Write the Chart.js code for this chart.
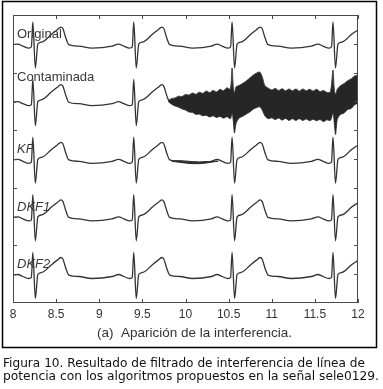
<!DOCTYPE html>
<html>
<head>
<meta charset="utf-8">
<script src="https://cdn.jsdelivr.net/npm/chart.js@4/dist/chart.umd.min.js"></script>
<style>
    html, body { margin: 0; padding: 0; background: #fff; }
    canvas { display: block; }
</style>
</head>
<body>
<canvas id="ecgChart" width="383" height="389"></canvas>
<script>
// ECG traces (time in s, amplitude in plot units around each trace baseline)
const ecgTime = [
    8.00, 8.056, 8.114, 8.184, 8.213, 8.23, 8.259, 8.288, 8.334, 8.45, 8.51, 8.555, 8.578, 8.613, 8.647, 8.763, 8.914, 9.15,
    9.226, 9.284, 9.354, 9.383, 9.40, 9.429, 9.458, 9.504, 9.62, 9.68, 9.725, 9.748, 9.783, 9.817, 9.933, 10.084, 10.30,
    10.366, 10.424, 10.494, 10.523, 10.54, 10.569, 10.598, 10.644, 10.76, 10.82, 10.865, 10.888, 10.923, 10.957, 11.073, 11.224, 11.46,
    11.536, 11.594, 11.664, 11.693, 11.71, 11.739, 11.768, 11.814, 11.93, 12.00
];
const ecgClean = [
    -0.03, -0.01, -0.08, -0.15, -0.11, 0.76, -0.84, -0.01, 0.06, 0.34, 0.48, 0.58, 0.53, 0.20, -0.03, -0.08, -0.15, -0.08,
    -0.01, -0.08, -0.15, -0.11, 0.76, -0.84, -0.01, 0.06, 0.34, 0.48, 0.58, 0.53, 0.20, -0.03, -0.08, -0.15, -0.08,
    -0.01, -0.08, -0.15, -0.11, 0.76, -0.84, -0.01, 0.06, 0.34, 0.48, 0.58, 0.53, 0.20, -0.03, -0.08, -0.15, -0.08,
    -0.01, -0.08, -0.15, -0.11, 0.76, -0.84, -0.01, 0.06, 0.34, 0.48
];

const traceNames = ['Original', 'Contaminada', 'KF', 'DKF1', 'DKF2'];
const traceOffsets = [9, 7, 5, 3, 1];

// Power line interference envelope on the contaminated trace
const noiseTime = [
    9.80, 9.84, 9.88, 9.92, 9.96, 10.00, 10.04, 10.08, 10.12, 10.16, 10.20, 10.24, 10.28, 10.32, 10.36, 10.40, 10.44, 10.48, 10.52,
    10.54, 10.555, 10.568, 10.585, 10.62, 10.66, 10.70, 10.74, 10.78, 10.82, 10.86, 10.89, 10.92, 10.96,
    11.00, 11.04, 11.08, 11.12, 11.16, 11.20, 11.24, 11.28, 11.32, 11.36, 11.40, 11.44, 11.48, 11.52, 11.56, 11.60, 11.64, 11.68,
    11.71, 11.725, 11.74, 11.76, 11.80, 11.84, 11.88, 11.92, 11.96, 12.00
];
const noiseTop = [
    0.03, 0.10, 0.12, 0.18, 0.17, 0.24, 0.22, 0.29, 0.25, 0.32, 0.28, 0.36, 0.31, 0.38, 0.33, 0.42, 0.37, 0.47, 0.43,
    1.16, 0.45, 0.30, 0.50, 0.55, 0.62, 0.70, 0.80, 0.90, 0.98, 1.02, 0.85, 0.55, 0.46,
    0.40, 0.45, 0.38, 0.44, 0.37, 0.43, 0.37, 0.43, 0.36, 0.43, 0.37, 0.42, 0.36, 0.42, 0.34, 0.38, 0.31, 0.33,
    1.09, 0.40, 0.25, 0.42, 0.55, 0.62, 0.72, 0.78, 0.88, 0.92
];
const noiseBottom = [
    0.00, -0.10, -0.16, -0.20, -0.26, -0.30, -0.37, -0.38, -0.45, -0.44, -0.50, -0.48, -0.54, -0.50, -0.56, -0.52, -0.58, -0.53, -0.60,
    -0.40, -0.70, -1.10, -0.78, -0.58, -0.52, -0.45, -0.38, -0.28, -0.22, -0.19, -0.30, -0.50, -0.60,
    -0.57, -0.63, -0.58, -0.65, -0.59, -0.66, -0.60, -0.66, -0.60, -0.66, -0.61, -0.67, -0.62, -0.67, -0.63, -0.70, -0.64, -0.66,
    -0.40, -0.75, -1.15, -0.62, -0.45, -0.40, -0.28, -0.25, -0.12, -0.06
];

// Residual interference left by the KF output
const kfNoiseTime = [9.84, 9.92, 10.00, 10.08, 10.16, 10.24, 10.32, 10.38];
const kfNoiseTop = [-0.07, -0.06, -0.07, -0.09, -0.10, -0.09, -0.08, -0.07];
const kfNoiseBottom = [-0.08, -0.11, -0.14, -0.16, -0.16, -0.14, -0.10, -0.08];

// Axes
const xTicks = [8, 8.5, 9, 9.5, 10, 10.5, 11, 11.5, 12];
const xTickLabels = ['8', '8.5', '9', '9.5', '10', '10.5', '11', '11.5', '12'];
const yTicks = [1, 2, 3, 4, 5, 6, 7, 8, 9];

const subTitle = '(a)  Aparición de la interferencia.';
const captionLines = [
    'Figura 10. Resultado de filtrado de interferencia de línea de',
    'potencia con los algoritmos propuestos en la señal sele0129.'
];

const lineColor = '#333333';

function toPoints(times, values, offset) {
    return times.map((t, i) => ({ x: t, y: values[i] + offset }));
}

// Build datasets (traces first, noise bands drawn on top via lower order)
const datasets = [];
traceNames.forEach((name, i) => {
    datasets.push({
        label: name,
        data: toPoints(ecgTime, ecgClean, traceOffsets[i]),
        borderColor: lineColor,
        borderWidth: 1.3,
        pointRadius: 0,
        cubicInterpolationMode: 'monotone',
        fill: false,
        order: 1
    });
});

datasets.push({
    label: 'noiseTop',
    data: toPoints(noiseTime, noiseTop, traceOffsets[1]),
    borderColor: '#444444',
    backgroundColor: '#262626',
    borderWidth: 1,
    pointRadius: 0,
    tension: 0.3,
    fill: '+1',
    order: 0
});
datasets.push({
    label: 'noiseBottom',
    data: toPoints(noiseTime, noiseBottom, traceOffsets[1]),
    borderColor: '#444444',
    borderWidth: 1,
    pointRadius: 0,
    tension: 0.3,
    fill: false,
    order: 0
});
datasets.push({
    label: 'kfTop',
    data: toPoints(kfNoiseTime, kfNoiseTop, traceOffsets[2]),
    borderColor: '#2e2e2e',
    backgroundColor: '#2e2e2e',
    borderWidth: 1,
    pointRadius: 0,
    tension: 0.4,
    fill: '+1',
    order: 0
});
datasets.push({
    label: 'kfBottom',
    data: toPoints(kfNoiseTime, kfNoiseBottom, traceOffsets[2]),
    borderColor: '#2e2e2e',
    borderWidth: 1,
    pointRadius: 0,
    tension: 0.4,
    fill: false,
    order: 0
});

// Box, inward ticks, labels, frame and caption
const figurePlugin = {
    id: 'figureDecor',
    beforeDraw(chart) {
        const ctx = chart.ctx;
        ctx.save();
        ctx.fillStyle = '#ffffff';
        ctx.fillRect(0, 0, chart.width, chart.height);
        ctx.restore();
    },
    afterDatasetsDraw(chart) {
        const ctx = chart.ctx;
        const area = chart.chartArea;
        const xs = chart.scales.x;
        const ys = chart.scales.y;
        ctx.save();

        // plot box
        ctx.strokeStyle = '#4a4a4a';
        ctx.lineWidth = 1;
        ctx.strokeRect(area.left + 0.5, area.top + 0.5, area.right - area.left - 1, area.bottom - area.top - 1);

        // inward ticks
        ctx.beginPath();
        xTicks.forEach(v => {
            const px = Math.round(xs.getPixelForValue(v)) + 0.5;
            ctx.moveTo(px, area.bottom);
            ctx.lineTo(px, area.bottom - 4);
            ctx.moveTo(px, area.top);
            ctx.lineTo(px, area.top + 4);
        });
        yTicks.forEach(v => {
            const py = Math.round(ys.getPixelForValue(v)) + 0.5;
            ctx.moveTo(area.left, py);
            ctx.lineTo(area.left + 4, py);
            ctx.moveTo(area.right, py);
            ctx.lineTo(area.right - 4, py);
        });
        ctx.stroke();

        // tick labels
        ctx.fillStyle = '#333';
        ctx.font = '12px "Liberation Sans", Arial, sans-serif';
        ctx.textAlign = 'center';
        ctx.textBaseline = 'alphabetic';
        xTicks.forEach((v, i) => {
            ctx.fillText(xTickLabels[i], xs.getPixelForValue(v), area.bottom + 15);
        });

        // trace names
        ctx.textAlign = 'left';
        ctx.fillStyle = '#383838';
        traceNames.forEach((name, i) => {
            const italic = i >= 2 ? 'italic ' : '';
            ctx.font = italic + '13px "Liberation Sans", Arial, sans-serif';
            const lift = i === 1 ? 0.71 : 0.2;
            ctx.fillText(name, area.left + 4, ys.getPixelForValue(traceOffsets[i] + lift));
        });

        // sub title
        ctx.fillStyle = '#333';
        ctx.font = '13.5px "Liberation Sans", Arial, sans-serif';
        ctx.fillText(subTitle, 97, 337);

        // outer frame
        ctx.strokeStyle = '#000';
        ctx.lineWidth = 1.5;
        ctx.strokeRect(2.5, 1.5, 374, 346);

        // caption, stretched to the widths of the original lines
        ctx.fillStyle = '#111';
        ctx.font = '12px "DejaVu Sans", sans-serif';
        const targetWidths = [362, 376];
        const baselines = [367, 380];
        captionLines.forEach((line, i) => {
            const w = ctx.measureText(line).width;
            ctx.save();
            ctx.translate(3, baselines[i]);
            ctx.scale(targetWidths[i] / w, 1);
            ctx.fillText(line, 0, 0);
            ctx.restore();
        });

        ctx.restore();
    }
};

document.addEventListener('DOMContentLoaded', function() {
    const canvas = document.getElementById('ecgChart');
    new Chart(canvas.getContext('2d'), {
        type: 'line',
        data: { datasets: datasets },
        options: {
            responsive: false,
            animation: false,
            devicePixelRatio: 1,
            layout: { padding: { left: 13, right: 25, top: 15, bottom: 86 } },
            plugins: {
                legend: { display: false },
                tooltip: { enabled: false },
                filler: { propagate: false }
            },
            scales: {
                x: { type: 'linear', min: 8, max: 12, display: false },
                y: { type: 'linear', min: 0, max: 10, display: false }
            }
        },
        plugins: [figurePlugin]
    });
});
</script>
</body>
</html>
